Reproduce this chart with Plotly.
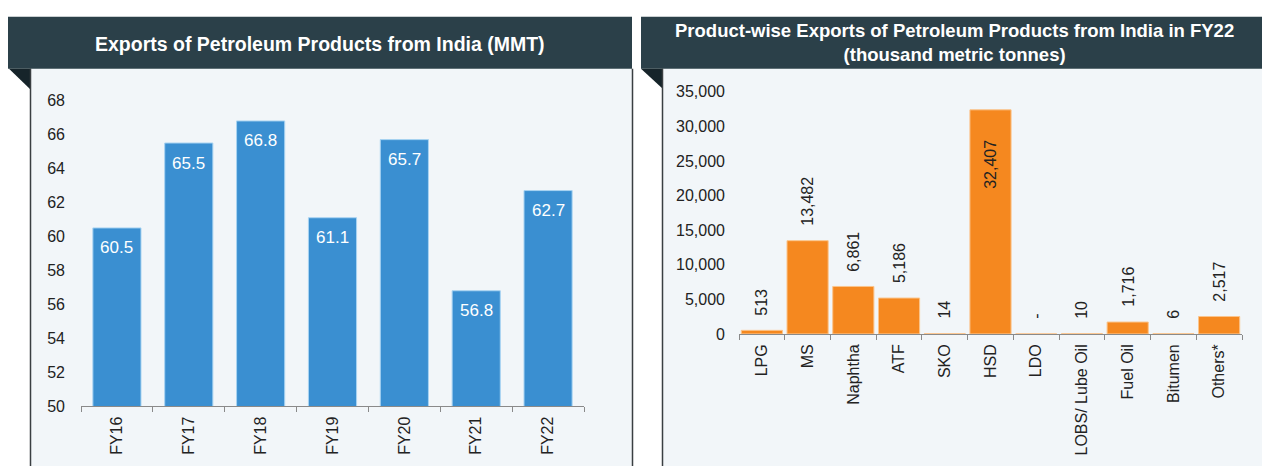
import plotly.graph_objects as go

# ---- data -------------------------------------------------------------
years = ["FY16", "FY17", "FY18", "FY19", "FY20", "FY21", "FY22"]
exports_mmt = [60.5, 65.5, 66.8, 61.1, 65.7, 56.8, 62.7]

products = ["LPG", "MS", "Naphtha", "ATF", "SKO", "HSD", "LDO",
            "LOBS/ Lube Oil", "Fuel Oil", "Bitumen", "Others*"]
product_exports = [513, 13482, 6861, 5186, 14, 32407, 0, 10, 1716, 6, 2517]
product_labels = ["513", "13,482", "6,861", "5,186", "14", "32,407", "-",
                  "10", "1,716", "6", "2,517"]

left_title = "Exports of Petroleum Products from India (MMT)"
right_title = ("Product-wise Exports of Petroleum Products from India in FY22"
               "<br>(thousand metric tonnes)")

# ---- canvas -----------------------------------------------------------
W, H = 1262, 475
HEADER = "#2b4049"
FOLD = "#16242a"
BODY = "#f2f6f9"
BLUE = "#3a8fd1"
ORANGE = "#f5881f"
FONT = "Liberation Sans, Arial, sans-serif"
TXT = "#222222"


def fx(p):
    return p / W


def fy(p):
    return 1 - p / H


fig = go.Figure()

fig.add_trace(go.Bar(
    x=years, y=exports_mmt, xaxis="x", yaxis="y",
    marker=dict(color=BLUE, line=dict(color="#a9d4f2", width=1)),
    hoverinfo="x+y", showlegend=False,
))

fig.add_trace(go.Bar(
    x=products, y=product_exports, xaxis="x2", yaxis="y2",
    marker=dict(color=ORANGE, line=dict(color="#fbc58c", width=1)),
    hoverinfo="x+y", showlegend=False, width=0.9,
))

# value labels: white inside the blue bars
annotations = []
for cat, v in zip(years, exports_mmt):
    annotations.append(dict(
        x=cat, y=v, xref="x", yref="y", text=f"{v:.1f}", showarrow=False,
        yanchor="middle", yshift=-20,
        font=dict(family=FONT, size=17, color="white"),
    ))

# rotated value labels above the orange bars (inside for the tallest one)
tallest = max(product_exports)
for cat, v, lab in zip(products, product_exports, product_labels):
    inside = v == tallest
    annotations.append(dict(
        x=cat, y=v, xref="x2", yref="y2", text=lab, showarrow=False,
        textangle=-90,
        yanchor="top" if inside else "bottom",
        yshift=-28 if inside else 13,
        font=dict(family=FONT, size=16, color=TXT),
    ))

# panel headings
annotations.append(dict(
    x=fx(320), y=fy(37), xref="paper", yref="paper", text=f"<b>{left_title}</b>",
    showarrow=False, xanchor="center", yanchor="middle",
    font=dict(family=FONT, size=19.5, color="white"),
))
annotations.append(dict(
    x=fx(954), y=fy(36), xref="paper", yref="paper", text=f"<b>{right_title}</b>",
    showarrow=False, xanchor="center", yanchor="middle",
    font=dict(family=FONT, size=18.5, color="white"),
))

shapes = [
    # panel bodies
    dict(type="rect", xref="paper", yref="paper", x0=fx(31), x1=fx(632),
         y0=fy(475), y1=fy(63), fillcolor=BODY, line_width=0, layer="below"),
    dict(type="rect", xref="paper", yref="paper", x0=fx(663), x1=fx(1262),
         y0=fy(475), y1=fy(63), fillcolor=BODY, line_width=0, layer="below"),
    # header bands
    dict(type="rect", xref="paper", yref="paper", x0=fx(8), x1=fx(632),
         y0=fy(63), y1=fy(9), fillcolor=HEADER, line_width=0, layer="below"),
    dict(type="rect", xref="paper", yref="paper", x0=fx(641), x1=fx(1262),
         y0=fy(63), y1=fy(9), fillcolor=HEADER, line_width=0, layer="below"),
    # ribbon folds
    dict(type="path", xref="paper", yref="paper",
         path=f"M {fx(9)} {fy(63)} L {fx(31)} {fy(63)} L {fx(31)} {fy(85)} Z",
         fillcolor=FOLD, line_width=0, layer="below"),
    dict(type="path", xref="paper", yref="paper",
         path=f"M {fx(641)} {fy(63)} L {fx(663)} {fy(63)} L {fx(663)} {fy(84)} Z",
         fillcolor=FOLD, line_width=0, layer="below"),
    # panel border lines
    dict(type="line", xref="paper", yref="paper", x0=fx(30.5), x1=fx(30.5),
         y0=fy(63), y1=fy(475), line=dict(color="#3a3f42", width=1.5)),
    dict(type="line", xref="paper", yref="paper", x0=fx(632.5), x1=fx(632.5),
         y0=fy(63), y1=fy(475), line=dict(color="#3a3f42", width=1.5)),
    dict(type="line", xref="paper", yref="paper", x0=fx(662.5), x1=fx(662.5),
         y0=fy(63), y1=fy(475), line=dict(color="#3a3f42", width=1.5)),
]

axis_common = dict(
    showgrid=False, zeroline=False, fixedrange=True,
    tickfont=dict(family=FONT, size=16, color=TXT),
)
xaxis_common = dict(
    axis_common, showline=True, linecolor="#8a8a8a", linewidth=1,
    ticks="outside", ticklen=5, tickcolor="#8a8a8a", tickson="boundaries",
    tickangle=-90, ticklabelstandoff=3,
)

fig.update_layout(
    width=W, height=H, margin=dict(l=0, r=0, t=0, b=0),
    paper_bgcolor="white", plot_bgcolor="rgba(0,0,0,0)",
    font=dict(family=FONT, size=16, color=TXT),
    bargap=0.33, barmode="group",
    xaxis=dict(xaxis_common, domain=[fx(81), fx(584)], anchor="y"),
    yaxis=dict(axis_common, domain=[fy(413), fy(96)], range=[50, 68],
               dtick=2, ticks="", showline=False, anchor="x",
               ticklabelstandoff=15),
    xaxis2=dict(xaxis_common, domain=[fx(739), fx(1242)], anchor="y2"),
    yaxis2=dict(axis_common, domain=[fy(338), fy(87)], range=[0, 35000],
                dtick=5000, tickformat=",", ticks="", showline=False,
                anchor="x2", ticklabelstandoff=13),
    shapes=shapes, annotations=annotations,
)

fig.write_html("out.html")
